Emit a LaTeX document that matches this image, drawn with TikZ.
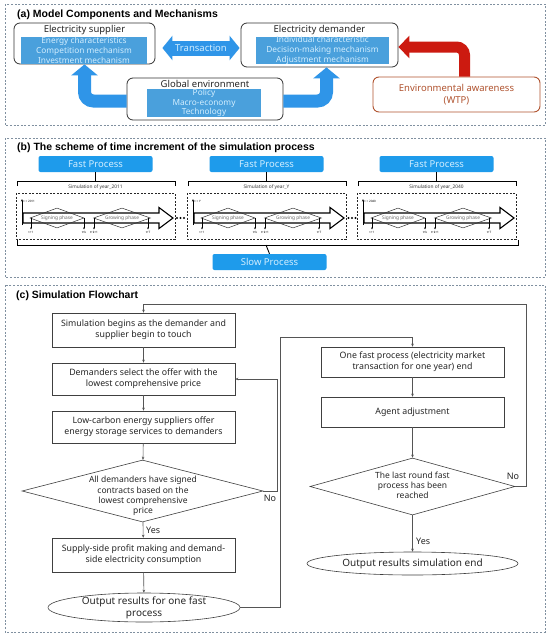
\documentclass[tikz,border=0pt]{standalone}
\usepackage{fontspec}
\setmainfont{Noto Sans}
\newfontfamily\titlefont{Liberation Sans}
\usetikzlibrary{arrows.meta,shapes.geometric,calc}
\definecolor{panelc}{HTML}{8090A0}
\definecolor{boxblue}{HTML}{4AA0DC}
\definecolor{boxtext}{HTML}{D2EEFF}
\definecolor{fastblue}{HTML}{1E9BEB}
\definecolor{arrowblue}{HTML}{2F95E8}
\definecolor{arrowred}{HTML}{CC1A10}
\definecolor{envc}{HTML}{B0532F}
\definecolor{flowc}{HTML}{555555}
\begin{document}
\begin{tikzpicture}[x=1pt,y=-1pt,
  panel/.style={draw=panelc, dash pattern=on 2pt off 1.6pt, line width=0.7pt},
  ptitle/.style={anchor=west, font=\titlefont\bfseries\fontsize{10.5}{12}\selectfont, inner sep=0},
  rbox/.style={draw=black!80, rounded corners=6pt, line width=0.8pt, inner sep=0},
  rtitle/.style={font=\fontsize{9.5}{11}\selectfont, inner sep=0, text=black!85},
  bluebox/.style={fill=boxblue, text=boxtext, inner sep=0, align=center, font=\fontsize{8.3}{9.8}\selectfont},
  fastbox/.style={fill=fastblue, text=boxtext, rounded corners=2pt, minimum width=114pt, minimum height=16pt, inner sep=0, font=\fontsize{9.5}{10}\selectfont},
  bigarrow/.style={line width=13pt, arrowblue, rounded corners=9pt, -{Triangle[width=26pt,length=11pt]}},
  segbox/.style={draw=black!85, dash pattern=on 2pt off 1.5pt, line width=0.6pt},
  brace/.style={draw=black, line width=0.9pt},
  phase/.style={diamond, draw=black!80, line width=0.5pt, inner sep=0},
  phasetext/.style={inner sep=0, text=black!60, font=\fontsize{4.8}{5}\selectfont},
  tiny/.style={font=\fontsize{3}{3.5}\selectfont, inner sep=0.5pt},
  fbox/.style={draw=black!75, line width=0.6pt, minimum width=183pt, align=center, inner sep=0, text=black!85, font=\fontsize{8.8}{11}\selectfont},
  fshape/.style={draw=black!75, line width=0.6pt, inner sep=0},
  ftext/.style={align=center, inner sep=0, text=black!85, font=\fontsize{8.5}{10.2}\selectfont},
  etext/.style={align=center, inner sep=0, text=black!85, font=\fontsize{10}{12}\selectfont},
  flow/.style={draw=flowc, line width=0.6pt, -{Stealth[length=3pt,width=2.6pt]}},
  lab/.style={font=\fontsize{9}{10}\selectfont, inner sep=0, text=black!85}]
\useasboundingbox (0,0) rectangle (550,637);
\fill[white] (0,0) rectangle (550,637);

% ---------------- (a)
\draw[panel] (5,4) rectangle (545,125);
\node[ptitle] (ta) at (17,15) {(a) Model Components and Mechanisms};

\node[rbox, minimum width=141pt, minimum height=41pt] (sup) at (84.5,43.5) {};
\node[rtitle] (supt) at (84.5,30) {Electricity supplier};
\node[bluebox, minimum width=126pt, minimum height=27pt] (supb) at (84,50.5) {Energy characteristics\\Competition mechanism\\Investment mechanism};

\node[rbox, minimum width=157pt, minimum height=44pt] (dem) at (319.5,45) {};
\node[rtitle] (demt) at (319.5,30) {Electricity demander};
\node[bluebox, minimum width=133pt, minimum height=27pt] (demb) at (322.5,50.5) {Individual characteristic\\Decision-making mechanism\\Adjustment mechanism};

\node[rbox, minimum width=156pt, minimum height=42pt] (glob) at (205,99) {};
\node[rtitle] (globt) at (205,84) {Global environment};
\node[bluebox, minimum width=114pt, minimum height=28pt] (globb) at (204,103) {Policy\\Macro-economy\\Technology};

\node[draw=envc, rounded corners=6pt, line width=0.9pt, minimum width=167pt, minimum height=35pt, align=center, text=envc, inner sep=0, font=\fontsize{9.5}{11.5}\selectfont] (env) at (456.5,94.5) {Environmental awareness\\(WTP)};

\draw[line width=15pt, arrowblue, {Triangle[width=24pt,length=10pt]}-{Triangle[width=24pt,length=10pt]}, shorten <=7pt, shorten >=1pt] ($(sup.east)+(0,4.5)$) -- ($(dem.west)+(0,3)$);
\node[text=boxtext, font=\fontsize{9.5}{10}\selectfont, inner sep=0] (trans) at (201,48) {Transaction};

\draw[bigarrow] ($(glob.west)+(0,2)$) -| (sup.south);
\draw[bigarrow] ($(glob.east)+(0,2)$) -| ($(dem.south)+(7,0)$);
\draw[line width=11pt, arrowred, rounded corners=8pt, -{Triangle[width=22pt,length=11pt]}] ($(env.north)+(8,0)$) |- ($(dem.east)+(0,2)$);

% ---------------- (b)
\draw[panel] (5,138) rectangle (545,277);
\node[ptitle] (tb) at (17,148) {(b) The scheme of time increment of the simulation process};

\foreach \o/\yr/\tl [count=\i] in {0/2011/{t = 2011}, 171/Y/{t = Y}, 341/2040/{t = 2040}} {
  \node[fastbox] (fast\i) at (95.5+\o,164) {Fast Process};
  \draw[brace] (17+\o,186) -- (17+\o,181) -- (175+\o,181) -- (175+\o,186);
  \draw[brace] (fast\i.south) -- (95.5+\o,181);
  \node[font=\fontsize{4.8}{5}\selectfont, inner sep=0, text=black!80] (sim\i) at (95.5+\o,187.5) {Simulation of year\_\yr};
  \draw[segbox] (16+\o,193) rectangle (175+\o,239);
  \draw[line width=1.1pt, fill=white] (23+\o,213) -- (159+\o,213) -- (159+\o,207.5) -- (173+\o,218) -- (159+\o,228.5) -- (159+\o,223) -- (23+\o,223) -- cycle;
  \draw[line width=0.5pt, -{Stealth[length=2.5pt,width=2pt]}] (22+\o,225) -- (22+\o,199);
  \node[tiny, anchor=west] (tl\i) at (23+\o,201) {\tl};
  \node[phase, minimum width=54pt, minimum height=20pt] (sg\i) at (57+\o,218) {};
  \node[phasetext] at (sg\i) {Signing phase};
  \node[phase, minimum width=57pt, minimum height=20pt] (gr\i) at (122+\o,218) {};
  \node[phasetext] at (gr\i) {Growing phase};
  \foreach \x/\t in {31/t+1, 84/t+k, 94/t+k+1, 148/t+T} {
    \draw[line width=0.5pt, -{Stealth[length=2.2pt,width=1.8pt]}] (\x+\o,218) -- (\x+\o,229.5);
    \node[tiny] at (\x+\o,232.5) {\t};
  }
}
\foreach \x in {177,180.5,184,348.5,352,355.5} \fill (\x,218) circle (1.1pt);

\node[fastbox] (slow) at (269.5,262) {Slow Process};
\draw[brace] (17,240) -- (17,245) -- (518,245) -- (518,240);
\draw[brace] (266,245) -- (slow.north);

% ---------------- (c)
\draw[panel] (5,285) rectangle (545,632);
\node[ptitle] (tc) at (16,296) {(c) Simulation Flowchart};

\node[fbox, minimum height=34pt] (b1) at (143.5,330) {Simulation begins as the demander and\\supplier begin to touch};
\node[fbox, minimum height=32pt] (b2) at (143.5,379) {Demanders select the offer with the\\lowest comprehensive price};
\node[fbox, minimum height=32pt] (b3) at (143.5,427) {Low-carbon energy suppliers offer\\energy storage services to demanders};
\node[fshape, diamond, minimum width=241pt, minimum height=62pt] (d1) at (142.5,491) {};
\node[ftext] (d1t) at (143,496) {All demanders have signed\\contracts based on the\\lowest comprehensive\\price};
\node[fbox, minimum height=34pt] (b4) at (143.5,555) {Supply-side profit making and demand-\\side electricity consumption};
\node[fshape, ellipse, minimum width=192pt, minimum height=29pt] (e1) at (144,607.5) {};
\node[etext] (e1t) at (e1) {Output results for one fast\\process};

\node[fbox, minimum height=30pt] (b5) at (412.5,362) {One fast process (electricity market\\transaction for one year) end};
\node[fbox, minimum height=30pt] (b6) at (412.5,412) {Agent adjustment};
\node[fshape, diamond, minimum width=205pt, minimum height=57pt] (d2) at (412.5,486.5) {};
\node[ftext] (d2t) at (412.5,485) {The last round fast\\process has been\\reached};
\node[fshape, ellipse, minimum width=211pt, minimum height=23pt] (e2) at (412.5,563.5) {};
\node[etext] (e2t) at (e2) {Output results simulation end};

\coordinate (c1) at (280,337);
\coordinate (c2) at (526,304);

\draw[flow] (b1) -- (b2);
\draw[flow] (b2) -- (b3);
\draw[flow] (b3) -- (d1);
\draw[flow] (d1) -- (b4);
\draw[flow] (b4) -- (e1);
\draw[flow] (d1.east) -- ++(14,0) |- (b2.east);
\draw[flow] (e1.east) -| (c1) -| (b5.north);
\draw[flow] (b5) -- (b6);
\draw[flow] (b6) -- (d2);
\draw[flow] (d2) -- (e2);
\draw[flow] (d2.east) -| (c2) -| (b1.north);

\node[lab, anchor=west] (yes1) at (146,530) {Yes};
\node[lab] (no1) at (270,498) {No};
\node[lab, anchor=west] (yes2) at (416,541) {Yes};
\node[lab] (no2) at (513,476) {No};
\end{tikzpicture}
\end{document}
